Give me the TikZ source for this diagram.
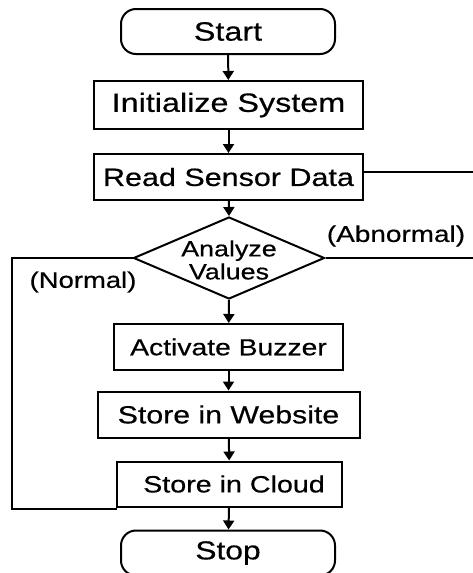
\documentclass[tikz,border=0pt]{standalone}
\usepackage{fontspec}
\setmainfont{Liberation Sans}[FakeStretch=1.22,FakeBold=0.5]
\usetikzlibrary{shapes.geometric,arrows.meta}
\newcommand{\fsz}[1]{\fontsize{#1}{#1}\selectfont}
\begin{document}
\begin{tikzpicture}[x=1pt,y=-1pt,
  every node/.style={inner sep=0pt},
  proc/.style={draw, line width=2pt, rectangle, minimum height=46pt},
  term/.style={draw, line width=2pt, rectangle, rounded corners=15pt, minimum width=214pt, minimum height=45pt},
  link/.style={line width=2pt},
  arr/.style={link, -{Triangle[length=9pt,width=11pt]}}]
\useasboundingbox (0,0) rectangle (473,573);
\node[term, font=\fsz{26.5}] (start) at (228,31.5) {Start};
\node[proc, minimum width=269pt, minimum height=48pt, font=\fsz{26.5}] (init) at (228.5,105) {Initialize System};
\node[proc, minimum width=269pt, font=\fsz{25}] (read) at (228.5,177) {Read Sensor Data};
\node[draw, diamond, line width=2pt, minimum width=191pt, minimum height=82pt] (dec) at (229,258) {};
\node[align=center, font=\fontsize{22}{23}\selectfont] (dectext) at (229,260) {Analyze\\Values};
\node[font=\fsz{22.9}] (abn) at (396,236) {(Abnormal)};
\node[font=\fsz{22.5}] (nor) at (83,282) {(Normal)};
\node[proc, minimum width=229pt, font=\fsz{23.2}] (buzz) at (228.5,347) {Activate Buzzer};
\node[proc, minimum width=262pt, font=\fsz{24.8}] (web) at (228.5,414.5) {Store in Website};
\node[proc, minimum width=225pt, minimum height=45pt, font=\fsz{23.5}] (cloud) at (229.5,484) {\hspace{9pt}Store in Cloud};
\node[term, font=\fsz{26}] (stop) at (228,553) {Stop};
\coordinate (readout) at (473,172);
\coordinate (abnout) at (473,258);
\coordinate (norcorner) at (12,258);
\coordinate (norbottom) at (12,509);
\draw[arr] (start) -- (init);
\draw[arr] (init) -- (read);
\draw[arr] (read) -- (dec.north);
\draw[arr] (dec.south) -- (buzz);
\draw[arr] (buzz) -- (web);
\draw[arr] (web) -- (cloud);
\draw[arr] (cloud) -- (stop);
\draw[link] (read.east |- readout) -- (readout);
\draw[link] (dec.east) -- (abnout);
\draw[link] (dec.west) -- (norcorner) -- (norbottom) -| (cloud.south west);
\end{tikzpicture}
\end{document}
